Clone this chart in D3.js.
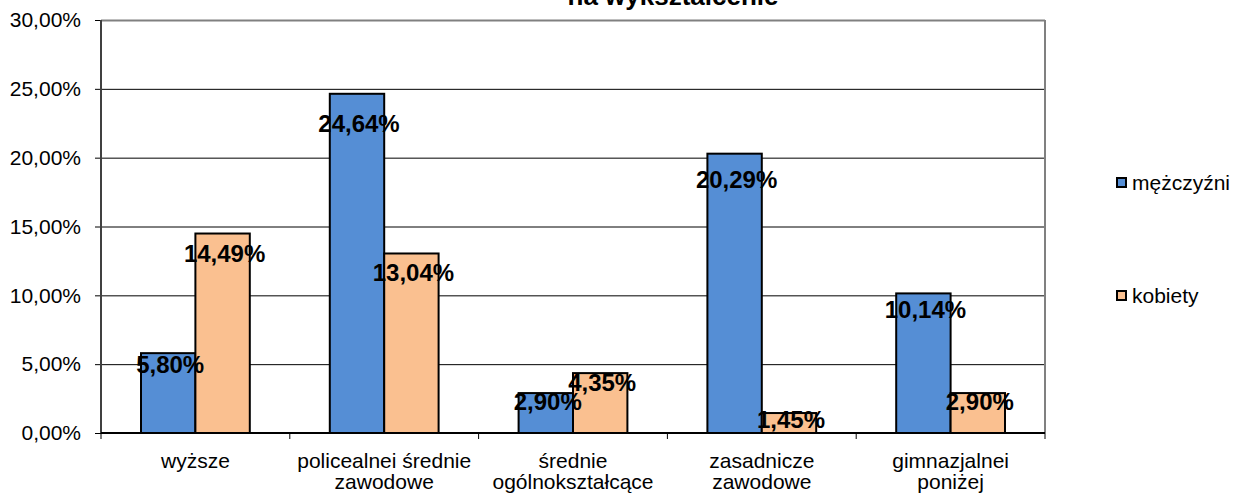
<!DOCTYPE html>
<head>
<meta charset="utf-8">
<script src="https://d3js.org/d3.v7.min.js"></script>
<style>
    body { margin: 0; background: #fff; font-family: "Liberation Sans", Arial, sans-serif; }
    .axis path { display: none; }
    .axis line { stroke: #000; }
    .axis text { font-size: 21px; fill: #000; font-family: "Liberation Sans", Arial, sans-serif; }
    .grid line { stroke: #000; stroke-width: 1px; }
    .label { font-size: 24px; font-weight: bold; fill: #000; }
    .legend text { font-size: 21px; fill: #000; }
</style>
</head>
<body>
<script>

    var categories = [
        ["wyższe"],
        ["policealnei średnie", "zawodowe"],
        ["średnie", "ogólnokształcące"],
        ["zasadnicze", "zawodowe"],
        ["gimnazjalnei", "poniżej"]
    ];
    var series = ["mężczyźni", "kobiety"];
    var men = [5.80, 24.64, 2.90, 20.29, 10.14];
    var women = [14.49, 13.04, 4.35, 1.45, 2.90];
    var yTicks = [0, 5, 10, 15, 20, 25, 30];
    var colors = ["#558ED5", "#FAC090"];
    var title = "na wykształcenie";

    var margin = {top: 20, left: 101},
        width = 944,
        height = 413;

    var svg = d3.select("body").append("svg")
        .attr("width", 1235)
        .attr("height", 493);

    svg.append("text")
        .attr("x", 673)
        .attr("y", 5)
        .attr("text-anchor", "middle")
        .style("font-size", "26px")
        .style("font-weight", "bold")
        .text(title);

    var g = svg.append("g")
        .attr("transform", "translate(" + margin.left + "," + margin.top + ")");

    var x0 = d3.scaleBand()
        .domain(d3.range(categories.length))
        .range([0, width]);

    var x1 = d3.scaleBand()
        .domain([0, 1])
        .range([40, x0.bandwidth() - 40]);

    var y = d3.scaleLinear()
        .domain([0, 30])
        .range([height, 0]);

    // data labels sit a bit lower than the bar top, Excel style
    var yLabel = d3.scaleLinear()
        .domain([0, 30])
        .range([height + 14, 44]);

    // grid
    g.append("g")
        .attr("class", "grid")
        .selectAll("line")
        .data(yTicks.slice(1))
        .enter().append("line")
        .attr("x1", 0)
        .attr("x2", width)
        .attr("y1", function(d) { return y(d) + 0.5; })
        .attr("y2", function(d) { return y(d) + 0.5; })
        .style("stroke", function(d) { return d === 30 ? "#808080" : "#000"; })
        .style("stroke-width", function(d) { return d === 30 ? 2 : 1; });

    g.append("line")
        .attr("x1", width).attr("x2", width)
        .attr("y1", 0).attr("y2", height)
        .style("stroke", "#808080")
        .style("stroke-width", 2);

    // y axis
    g.append("g")
        .attr("class", "axis")
        .call(d3.axisLeft(y).tickValues(yTicks).tickSize(6).tickPadding(14)
            .tickFormat(function(d) { return d3.format(".2f")(d).replace(".", ",") + "%"; }));
    g.append("line")
        .attr("x1", 0).attr("x2", 0)
        .attr("y1", 0).attr("y2", height)
        .style("stroke", "#404040")
        .style("stroke-width", 2);

    // x axis
    var xAxis = g.append("g")
        .attr("class", "axis")
        .attr("transform", "translate(0," + height + ")");
    xAxis.append("line")
        .attr("x1", 0).attr("x2", width)
        .style("stroke", "#000").style("stroke-width", 2);
    xAxis.selectAll(".tk")
        .data(d3.range(categories.length + 1))
        .enter().append("line")
        .attr("x1", function(d) { return d * x0.step(); })
        .attr("x2", function(d) { return d * x0.step(); })
        .attr("y1", 0).attr("y2", 6);
    xAxis.selectAll(".cat")
        .data(categories)
        .enter().append("text")
        .attr("text-anchor", "middle")
        .attr("transform", function(d, i) { return "translate(" + (x0(i) + x0.bandwidth() / 2) + ",0)"; })
        .selectAll("tspan")
        .data(function(d) { return d; })
        .enter().append("tspan")
        .attr("x", 0)
        .attr("y", function(d, j) { return 35 + j * 21; })
        .text(function(d) { return d; });

    var rows = categories.map(function(c, i) { return [men[i], women[i]]; });

    var groups = g.selectAll(".grp")
        .data(rows)
        .enter().append("g")
        .attr("transform", function(d, i) { return "translate(" + x0(i) + ",0)"; });

    groups.selectAll("rect")
        .data(function(d) { return d; })
        .enter().append("rect")
        .attr("x", function(d, j) { return x1(j); })
        .attr("y", function(d) { return y(d); })
        .attr("width", x1.bandwidth())
        .attr("height", function(d) { return height - y(d); })
        .style("fill", function(d, j) { return colors[j]; })
        .style("stroke", "#000")
        .style("stroke-width", 2);

    groups.selectAll(".label")
        .data(function(d) { return d; })
        .enter().append("text")
        .attr("class", "label")
        .attr("text-anchor", "middle")
        .attr("x", function(d, j) { return x1(j) + x1.bandwidth() / 2 + 2; })
        .attr("y", function(d) { return yLabel(d); })
        .text(function(d) { return d3.format(".2f")(d).replace(".", ",") + "%"; });

    // legend
    var legend = svg.append("g")
        .attr("class", "legend")
        .selectAll("g")
        .data(series)
        .enter().append("g")
        .attr("transform", function(d, i) { return "translate(1117," + (178 + i * 113) + ")"; });
    legend.append("rect")
        .attr("width", 9).attr("height", 9)
        .style("fill", function(d, i) { return colors[i]; })
        .style("stroke", "#000").style("stroke-width", 2);
    legend.append("text")
        .attr("x", 15).attr("y", 12)
        .text(function(d) { return d; });
</script>
</body>
